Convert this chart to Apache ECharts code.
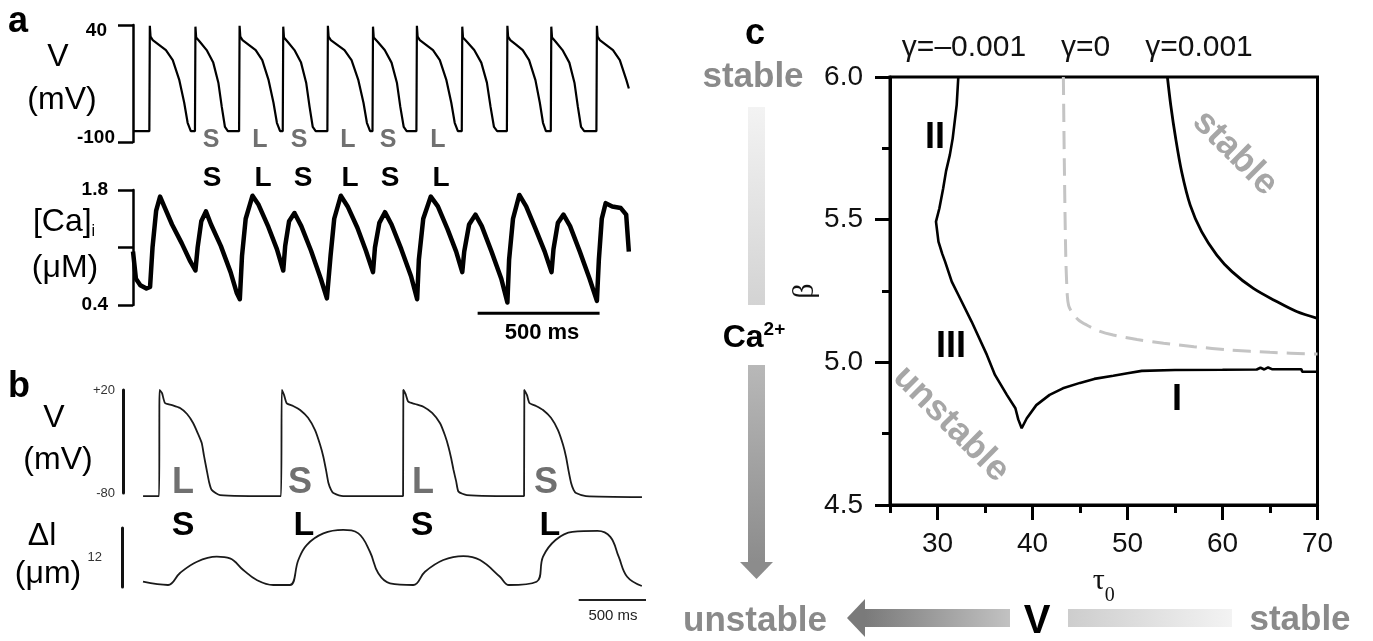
<!DOCTYPE html>
<html><head><meta charset="utf-8">
<script src="https://cdn.jsdelivr.net/npm/echarts@6/dist/echarts.min.js"></script>
<style>html,body{margin:0;padding:0;background:#fff}#c{width:1373px;height:641px}</style>
</head><body><div id="c"></div><script>
// ---------- DATA ----------
// Panel a: membrane voltage (ms, mV)
const aV = [[0,-87],
[67,-87],[69,39],[72,26],[81,22],[108,16],[135,10],[163,-2],[190,-26],[210,-53],[224,-77],[237,-87],
[254,-87],[256,38],[259,25],[274,20],[302,10],[329,-5],[350,-29],[364,-58],[377,-82],[389,-87],
[435,-87],[437,39],[440,26],[449,22],[476,16],[503,10],[530,-2],[556,-26],[576,-53],[590,-77],[603,-87],
[614,-87],[616,38],[619,25],[634,20],[662,10],[689,-5],[710,-29],[724,-58],[737,-82],[749,-87],
[797,-87],[799,39],[802,26],[811,22],[839,16],[867,10],[896,-2],[924,-26],[945,-53],[959,-77],[972,-87],
[982,-87],[984,38],[987,25],[1003,20],[1032,10],[1060,-5],[1082,-29],[1096,-58],[1110,-82],[1122,-87],
[1162,-87],[1164,39],[1167,26],[1176,22],[1203,16],[1230,10],[1258,-2],[1285,-26],[1305,-53],[1319,-77],[1332,-87],
[1348,-87],[1350,38],[1353,25],[1369,20],[1399,10],[1428,-5],[1451,-29],[1466,-58],[1480,-82],[1493,-87],
[1533,-87],[1535,39],[1538,26],[1547,22],[1573,16],[1598,10],[1624,-2],[1650,-26],[1668,-53],[1681,-77],[1693,-87],
[1713,-87],[1715,38],[1718,25],[1733,20],[1761,10],[1789,-5],[1810,-29],[1824,-58],[1837,-82],[1850,-87],
[1900,-87],[1902,39],[1905,26],[1914,22],[1941,16],[1968,10],[1996,-2],[2023,-26],[2033,-36]];
// Panel a: intracellular calcium (ms, uM)
const aCa = [[0,1.05],[12,0.72],[30,0.64],[55,0.6],[70,0.62],[80,1.1],[95,1.55],[111,1.72],[128,1.6],[160,1.38],[200,1.15],[235,0.93],[256,0.82],
[265,1.1],[280,1.42],[299,1.54],[320,1.38],[360,1.12],[400,0.8],[425,0.55],[438,0.47],
[447,1.0],[462,1.45],[490,1.73],[515,1.62],[555,1.35],[590,1.08],[616,0.82],
[624,1.12],[640,1.42],[662,1.52],[690,1.36],[730,1.06],[770,0.72],[795,0.48],[802,0.46],
[810,1.0],[825,1.45],[852,1.73],[880,1.6],[920,1.34],[955,1.06],[984,0.8],
[992,1.1],[1010,1.4],[1033,1.53],[1060,1.38],[1100,1.08],[1140,0.75],[1165,0.47],
[1172,0.95],[1190,1.45],[1221,1.72],[1250,1.6],[1290,1.32],[1325,1.05],[1350,0.8],
[1358,1.05],[1378,1.38],[1404,1.5],[1430,1.36],[1470,1.05],[1510,0.72],[1535,0.43],
[1542,0.95],[1558,1.45],[1584,1.74],[1612,1.6],[1650,1.33],[1688,1.05],[1716,0.8],
[1724,1.08],[1742,1.4],[1765,1.5],[1792,1.36],[1832,1.05],[1872,0.72],[1902,0.45],
[1910,0.95],[1922,1.45],[1938,1.64],[1965,1.6],[2000,1.58],[2022,1.5],[2033,1.05]];
const aScaleBar = [[1413,0.30],[1913,0.30]];   // 500 ms
const aVTicks = [-100, 40];
const aCaTicks = [0.4, 1.1, 1.8];
const aCaLabels = [0.4, 1.8];
const aLettersGray = ['S','L','S','L','S','L'];
const aLettersBlack = ['S','L','S','L','S','L'];

// Panel b: voltage (ms, mV) and cell shortening (ms, um)
const bV = [[0,-83],[119,-83],[123,20],[141,17],[163,7.4],[215,5.4],[275,2.5],[327,-3.3],[372,-12],[409,-22.7],[436,-31.5],[453,-44],[473,-57.7],[490,-69],[510,-77],[572,-82],[1025,-83],
[1031,20],[1048,15],[1068,7],[1115,4.5],[1167,0.6],[1226,-7],[1278,-19],[1315,-33],[1340,-45],[1360,-58],[1377,-70],[1397,-77],[1414,-80],[1488,-83],[1932,-83],
[1934,20],[1951,16],[1971,8.6],[2021,6.4],[2083,3.8],[2148,-2.3],[2207,-12.3],[2245,-24.7],[2269,-35],[2289,-46],[2307,-57.7],[2327,-69],[2344,-78.7],[2406,-82],[2831,-83],
[2833,20],[2853,15],[2871,7.4],[2920,4.5],[2972,0.6],[3031,-7],[3083,-19],[3120,-33],[3143,-45],[3161,-58],[3180,-70],[3199,-77],[3217,-80],[3291,-83],[3707,-84]];
const bDl = [[0,1.08],[186,0.41],[275,2.85],[401,5.14],[548,6.16],[646,5.83],[745,3.46],[845,1.42],[968,0.41],[1092,0.41],
[1154,5.49],[1216,8.54],[1340,10.9],[1488,11.6],[1600,10.9],[1686,7.17],[1748,2.78],[1835,0.75],[2008,0.41],
[2095,3.11],[2231,5.49],[2380,6.3],[2504,5.49],[2652,2.09],[2719,0.41],[2924,1.08],
[2972,6.16],[3065,9.55],[3190,11.2],[3377,11.4],[3472,10.2],[3534,6.16],[3597,2.09],[3706,0.2]];
const bScaleBar = [[3237,-2.64],[3737,-2.64]];  // 500 ms
const bVTicks = [-80, 20];
const bLettersGray = ['L','S','L','S'];
const bLettersBlack = ['S','L','S','L'];

// Panel c: stability boundaries (tau0, beta)
const gammaNeg = [[32.19,6.0],[32.02,5.902],[31.6,5.785],[31.3,5.727],[30.9,5.67],[30.6,5.61],[30.2,5.54],[29.84,5.493],[30.1,5.423],[30.5,5.38],[30.8,5.353],[31.5,5.283],[32.2,5.236],[33.6,5.142],[35.2,5.026],[36.05,4.956],[37.3,4.886],[38.2,4.839],[38.5,4.80],[38.86,4.769],[39.4,4.804],[40.4,4.85],[41.8,4.886],[43.2,4.909],[45.0,4.928],[46.5,4.942],[48.5,4.953],[50.0,4.962],[51.5,4.970],[55,4.973],[60,4.974],[63.6,4.975],[64.0,4.981],[64.4,4.975],[64.8,4.982],[65.2,4.976],[68.3,4.976],[68.4,4.967],[70,4.967]];
const gammaZero = [[43.25,6.0],[43.35,5.7],[43.5,5.376],[43.66,5.236],[43.8,5.2],[44.1,5.178],[44.8,5.15],[45.7,5.131],[47,5.11],[48.5,5.096],[51,5.08],[53.8,5.067],[57,5.055],[60.8,5.043],[65,5.035],[70,5.029]];
const gammaPos = [[54.2,6.0],[54.55,5.902],[55.07,5.785],[55.7,5.668],[56.6,5.551],[57.8,5.458],[59.4,5.376],[61.0,5.318],[63.25,5.259],[65.7,5.213],[67.8,5.178],[70,5.154]];
const cXMajor = [30,40,50,60,70];
const cXMinor = [25,35,45,55,65];
const cYMajor = [4.5,5.0,5.5,6.0];
const cYMinor = [4.75,5.25,5.75];
const gammaLabels = ['γ=–0.001','γ=0','γ=0.001'];

// ---------- CHART ----------
const SANS = "'Liberation Sans', Arial, sans-serif";
const SERIF = "'Liberation Serif', 'Times New Roman', serif";
const chart = echarts.init(document.getElementById('c'), null, {renderer:'canvas'});

function txt(x, y, text, size, weight, fill, extra) {
  const e = {type:'text', x:x, y:y, z:100, style:Object.assign({text:text, fontSize:size, fontWeight:weight||'normal', fontFamily:SANS, fill:fill||'#000', align:'center', verticalAlign:'middle'}, (extra&&extra.style)||{})};
  if (extra && extra.rotation != null) e.rotation = extra.rotation;
  return e;
}
function grad(x1,y1,x2,y2,c1,c2){return new echarts.graphic.LinearGradient(x1,y1,x2,y2,[{offset:0,color:c1},{offset:1,color:c2}]);}

const graphics = [];
// panel letters
graphics.push(txt(18,22,'a',36,'bold'));
graphics.push(txt(19,387,'b',36,'bold'));
graphics.push(txt(755,34,'c',36,'bold'));
// panel a labels
graphics.push(txt(58,57,'V',32));
graphics.push(txt(62,100,'(mV)',32));
graphics.push({type:'text', x:64, y:222, z:100, style:{text:'{a|[Ca]}{s|i}', align:'center', verticalAlign:'middle', rich:{a:{fontSize:32,fontFamily:SANS,fill:'#000',lineHeight:36},s:{fontSize:16,fontFamily:SANS,fill:'#000',lineHeight:16,verticalAlign:'bottom'}}}});
graphics.push(txt(65,268,'(μM)',32));
const aGrayX = [211,260,299,348,388,438];
const aBlackX = [212,263,303,350,390,441];
aLettersGray.forEach((l,i)=>graphics.push(txt(aGrayX[i],140,l,25,'bold','#707070')));
aLettersBlack.forEach((l,i)=>graphics.push(txt(aBlackX[i],178,l,28,'bold','#000')));
graphics.push(txt(542,333,'500 ms',22,'bold'));
// panel b labels
graphics.push(txt(54,418,'V',32));
graphics.push(txt(58,460,'(mV)',32));
graphics.push(txt(42,536,'Δl',32));
graphics.push(txt(48,574,'(μm)',32));
const bGrayX = [183,300,423,546];
const bBlackX = [183,304,422,550];
bLettersGray.forEach((l,i)=>graphics.push(txt(bGrayX[i],483,l,36,'bold','#707070')));
bLettersBlack.forEach((l,i)=>graphics.push(txt(bBlackX[i],526,l,34,'bold','#000')));
graphics.push(txt(613,616,'500 ms',15,'normal','#222'));
// panel c surroundings
graphics.push(txt(753,77,'stable',35,'bold','#8a8a8a'));
graphics.push({type:'rect', shape:{x:748,y:107,width:17,height:198}, style:{fill:grad(0,0,0,1,'#f3f3f3','#d3d3d3')}});
graphics.push({type:'text', x:754, y:338, z:100, style:{text:'{a|Ca}{b|2+}', align:'center', verticalAlign:'middle', rich:{a:{fontSize:32,fontWeight:'bold',fontFamily:SANS,fill:'#000',lineHeight:36},b:{fontSize:19,fontWeight:'bold',fontFamily:SANS,fill:'#000',lineHeight:19,verticalAlign:'top'}}}});
graphics.push({type:'rect', shape:{x:748,y:365,width:17,height:197}, style:{fill:grad(0,0,0,1,'#b8b8b8','#8c8c8c')}});
graphics.push({type:'polygon', shape:{points:[[740,562],[773,562],[756.5,579]]}, style:{fill:'#8c8c8c'}});
graphics.push(txt(755,621,'unstable',35,'bold','#8a8a8a'));
graphics.push({type:'rect', shape:{x:865,y:609,width:145,height:18}, style:{fill:grad(0,0,1,0,'#7a7a7a','#c2c2c2')}});
graphics.push({type:'polygon', shape:{points:[[865,599],[865,637],[847,618]]}, style:{fill:'#7a7a7a'}});
graphics.push(txt(1037,622,'V',40,'bold','#000'));
graphics.push({type:'rect', shape:{x:1068,y:609,width:164,height:18}, style:{fill:grad(0,0,1,0,'#cdcdcd','#f3f3f3')}});
graphics.push(txt(1300,620,'stable',35,'bold','#8a8a8a'));
const gammaX = [964,1085.5,1199];
gammaLabels.forEach((g,i)=>graphics.push(txt(gammaX[i],48,g,30,'normal','#111')));
graphics.push(txt(935,138,'II',36,'bold'));
graphics.push(txt(951,347,'III',36,'bold'));
graphics.push(txt(1177,400,'I',36,'bold'));
graphics.push(txt(951,424,'unstable',36,'bold','#a6a6a6',{rotation:-Math.PI/4}));
graphics.push(txt(1235,153,'stable',36,'bold','#a6a6a6',{rotation:-Math.PI/4}));

const blk = '#000';
function hiddenX(gi, min, max){return {gridIndex:gi, type:'value', min:min, max:max, show:false};}

const option = {
  animation:false,
  backgroundColor:'#fff',
  grid:[
    {left:133, top:25, width:500, height:117, outerBoundsMode:'none'},
    {left:133, top:190, width:500, height:115, outerBoundsMode:'none'},
    {left:123, top:390, width:523, height:103, outerBoundsMode:'none'},
    {left:122, top:528, width:524, height:59, outerBoundsMode:'none'},
    {left:890, top:77, width:427.5, height:428, show:true, borderColor:'#000', borderWidth:3, backgroundColor:'transparent', outerBoundsMode:'none'}
  ],
  xAxis:[
    hiddenX(0,0,2050), hiddenX(1,0,2050), hiddenX(2,-149,3737), hiddenX(3,-156,3737),
    {gridIndex:4, type:'value', min:25, max:70, position:'bottom',
      axisLine:{show:true, onZero:false, lineStyle:{color:blk,width:3}},
      axisTick:{show:true, length:15, customValues:cXMajor, lineStyle:{color:blk,width:3}},
      axisLabel:{show:true, customValues:cXMajor, margin:25, fontSize:28, fontFamily:SANS, color:'#111'},
      splitLine:{show:false},
      name:'{t|τ}{s|0}', nameLocation:'middle', nameGap:51,
      nameTextStyle:{rich:{t:{fontSize:30,fontFamily:SERIF,color:'#111',lineHeight:50},s:{fontSize:20,fontFamily:SERIF,color:'#111',lineHeight:20,verticalAlign:'bottom'}}}},
    {gridIndex:4, type:'value', min:25, max:70, position:'top', offset:-428,
      axisLine:{show:false, onZero:false},
      axisTick:{show:true, inside:true, length:8, customValues:cXMinor, lineStyle:{color:blk,width:3}},
      axisLabel:{show:false}, splitLine:{show:false}}
  ],
  yAxis:[
    {gridIndex:0, type:'value', min:-100, max:40,
      axisLine:{show:true, onZero:false, lineStyle:{color:blk,width:2.5}},
      axisTick:{show:true, length:15, customValues:aVTicks, lineStyle:{color:blk,width:2.5}},
      axisLabel:{show:true, customValues:aVTicks, margin:18,
        formatter:(v)=> v===40 ? '{t|40}' : '{b|-100}',
        rich:{t:{fontSize:19,fontWeight:'bold',fontFamily:SANS,color:blk,padding:[12,8,0,0]},
              b:{fontSize:19,fontWeight:'bold',fontFamily:SANS,color:blk,padding:[0,0,9,0]}}},
      splitLine:{show:false}},
    {gridIndex:1, type:'value', min:0.4, max:1.8,
      axisLine:{show:true, onZero:false, lineStyle:{color:blk,width:2.5}},
      axisTick:{show:true, length:15, customValues:aCaTicks, lineStyle:{color:blk,width:2.5}},
      axisLabel:{show:true, customValues:aCaLabels, margin:25, fontSize:19, fontWeight:'bold', fontFamily:SANS, color:blk,
        formatter:(v)=>v.toFixed(1)},
      splitLine:{show:false}},
    {gridIndex:2, type:'value', min:-80, max:20,
      axisLine:{show:true, onZero:false, lineStyle:{color:'#111',width:3}},
      axisTick:{show:false},
      axisLabel:{show:true, customValues:bVTicks, margin:8, fontSize:13, fontFamily:SANS, color:'#333',
        formatter:(v)=> v>0 ? '+'+v : String(v)},
      splitLine:{show:false}},
    {gridIndex:3, type:'value', min:0, max:12,
      axisLine:{show:true, onZero:false, lineStyle:{color:'#111',width:3}},
      axisTick:{show:false}, axisLabel:{show:false}, splitLine:{show:false},
      name:'12', nameLocation:'middle', nameRotate:0, nameGap:20,
      nameTextStyle:{fontSize:13, fontFamily:SANS, color:'#333'}},
    {gridIndex:4, type:'value', min:4.5, max:6.0, position:'left',
      axisLine:{show:true, onZero:false, lineStyle:{color:blk,width:3}},
      axisTick:{show:true, length:15, customValues:cYMajor, lineStyle:{color:blk,width:3}},
      axisLabel:{show:true, customValues:cYMajor, margin:27, fontSize:28, fontFamily:SANS, color:'#111',
        formatter:(v)=>v.toFixed(1)},
      splitLine:{show:false},
      name:'β', nameLocation:'middle', nameRotate:90, nameGap:70,
      nameTextStyle:{fontSize:30, fontFamily:SERIF, color:'#111'}},
    {gridIndex:4, type:'value', min:4.5, max:6.0, position:'right', offset:-427.5,
      axisLine:{show:false, onZero:false},
      axisTick:{show:true, inside:true, length:8, customValues:cYMinor, lineStyle:{color:blk,width:3}},
      axisLabel:{show:false}, splitLine:{show:false}}
  ],
  series:[
    {name:'V (a)', type:'line', xAxisIndex:0, yAxisIndex:0, data:aV, symbol:'none', clip:false, lineStyle:{color:'#000',width:2.2}},
    {name:'[Ca]i', type:'line', xAxisIndex:1, yAxisIndex:1, data:aCa, symbol:'none', clip:false, lineStyle:{color:'#000',width:4.5,join:'round'}},
    {name:'scale a', type:'line', xAxisIndex:1, yAxisIndex:1, data:aScaleBar, symbol:'none', clip:false, lineStyle:{color:'#000',width:3}},
    {name:'V (b)', type:'line', xAxisIndex:2, yAxisIndex:2, data:bV, symbol:'none', clip:false, smooth:0.2, lineStyle:{color:'#1a1a1a',width:1.8}},
    {name:'Δl', type:'line', xAxisIndex:3, yAxisIndex:3, data:bDl, symbol:'none', clip:false, smooth:0.4, lineStyle:{color:'#1a1a1a',width:1.8}},
    {name:'scale b', type:'line', xAxisIndex:3, yAxisIndex:3, data:bScaleBar, symbol:'none', clip:false, lineStyle:{color:'#222',width:2}},
    {name:'γ=-0.001', type:'line', xAxisIndex:4, yAxisIndex:4, data:gammaNeg, symbol:'none', clip:false, lineStyle:{color:'#000',width:2.6}},
    {name:'γ=0', type:'line', xAxisIndex:4, yAxisIndex:4, data:gammaZero, symbol:'none', clip:false, smooth:0.3, lineStyle:{color:'#c4c4c4',width:3,type:[18,9]}},
    {name:'γ=0.001', type:'line', xAxisIndex:4, yAxisIndex:4, data:gammaPos, symbol:'none', clip:false, smooth:0.3, lineStyle:{color:'#000',width:2.8}}
  ],
  graphic: graphics
};
chart.setOption(option);
</script></body></html>
